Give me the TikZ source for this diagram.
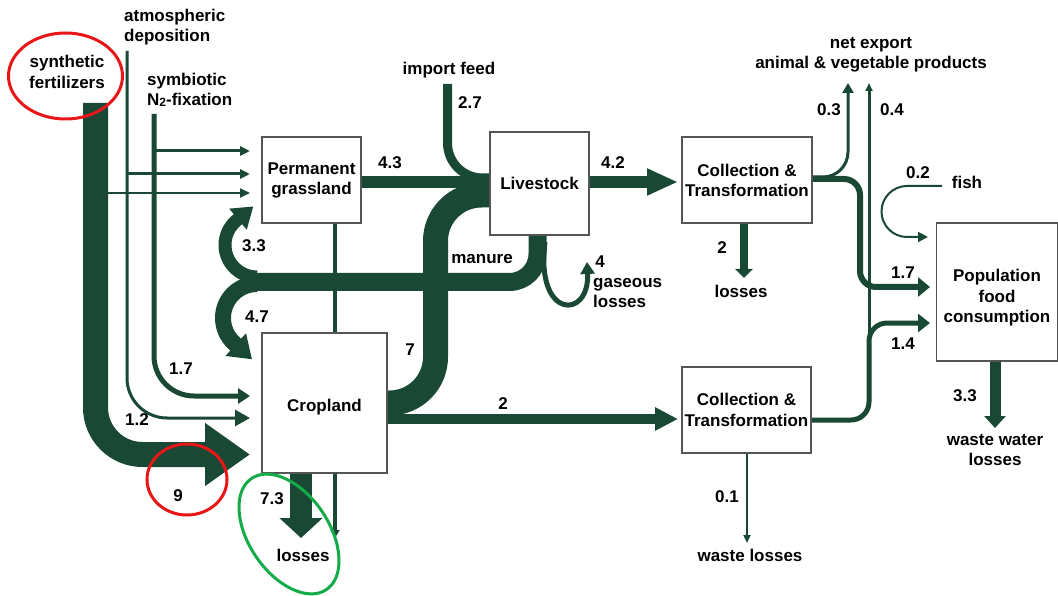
\documentclass[tikz,border=0pt]{standalone}
\usepackage{fontspec}
\setmainfont{Liberation Sans}
\usetikzlibrary{arrows.meta}
\definecolor{fl}{RGB}{25,72,52}
\definecolor{bx}{RGB}{85,85,85}
\definecolor{rd}{RGB}{232,22,22}
\definecolor{gn}{RGB}{20,172,72}
\begin{document}
\begin{tikzpicture}[x=1pt,y=1pt,
  flow/.style={draw=fl, line cap=butt, line join=round},
  lb/.style={font=\bfseries\fontsize{17}{20.5}\selectfont, inner sep=0pt, text=black},
  box/.style={draw=bx, fill=white, line width=1.3pt, inner sep=0pt},
  hd/.style args={#1/#2}{-{Triangle[length=#1pt 0 1, width=#2pt 0 1]}},
]
\useasboundingbox (0,0) rectangle (1058,-596);

% ---------- input flows on the left ----------
% synthetic fertilizers (9)
\draw[flow, line width=25pt, rounded corners=47pt, hd=45/60] (95.5,-103) -- (95.5,-454.5) -- (250,-454.5);
\draw[flow, line width=2pt, hd=10/9] (108,-193) -- (250,-193);
% atmospheric deposition (1.2)
\draw[flow, line width=3pt, rounded corners=40pt, hd=15/16] (127,-51) -- (127,-418) -- (250,-418);
\draw[flow, line width=3pt, hd=10/9] (127,-174) -- (250,-174);
% symbiotic fixation (1.7)
\draw[flow, line width=5pt, rounded corners=40pt, hd=12/15] (154,-114) -- (154,-396) -- (250,-396);
\draw[flow, line width=3pt, hd=10/9] (154,-151) -- (250,-151);

% grassland - cropland leaching line
\draw[flow, line width=4.5pt, hd=8/9] (335,-223) -- (335,-538);
% cropland losses 7.3
\draw[flow, line width=22pt, hd=20/42] (301,-473) -- (301,-538);

% cropland -> livestock (7)
\draw[flow, line width=25pt, rounded corners=46pt] (386,-403) -- (435.5,-403) -- (435.5,-195) -- (490,-195);
% cropland -> collection (2)
\draw[flow, line width=10pt, hd=23/22] (386,-419) -- (678,-419);
% grassland -> livestock (4.3)
\draw[flow, line width=12pt] (361,-182) -- (490,-182);
% import feed (2.7)
\draw[flow, line width=9pt, rounded corners=35pt] (447.5,-84) -- (447.5,-178) -- (490,-178);
% livestock -> collection (4.2)
\draw[flow, line width=12pt, hd=31/25] (589,-182) -- (678,-182);

% manure
\draw[flow, line width=18pt, rounded corners=28pt] (537.5,-235) -- (537.5,-282) -- (256,-282);
% 3.3 back to grassland
\draw[flow, line width=13pt, hd=20/26] (257,-277) arc[start angle=270, end angle=130, radius=32] -- ++(16.9,14.1);
% 4.7 to cropland
\draw[flow, line width=16pt, hd=22/29] (257,-284) arc[start angle=90, end angle=228, radius=34] -- ++(17.8,-16.1);
% gaseous losses
\draw[flow, line width=5pt, hd=12/14] (545,-242) .. controls (535,-320) and (590,-320) .. (587,-262);

% collection (top) outputs
\draw[flow, line width=8pt, hd=9/17] (744,-223) -- (744,-278);
\draw[flow, line width=3pt, rounded corners=25pt, hd=10/11] (812,-177) -- (848,-177) -- (848,-83);
\draw[flow, line width=6pt, rounded corners=16pt, hd=12/19] (812,-179) -- (860,-179) -- (860,-287) -- (930,-287);
% collection (bottom) outputs
\draw[flow, line width=5pt, rounded corners=18pt, hd=12/18] (811,-420) -- (869,-420) -- (869,-323) -- (930,-323);
\draw[flow, line width=3pt, hd=8/7] (869,-340) -- (869,-83);
\draw[flow, line width=2pt, hd=8/7] (747,-453) -- (747,-543);
% fish
\draw[flow, line width=2pt, hd=10/10] (942,-186) -- (907,-186) arc[start angle=90, end angle=270, radius=25.5] -- (928,-237);
% waste water
\draw[flow, line width=11pt, hd=12/21] (995,-361) -- (995,-428);

% ---------- boxes ----------
\node[box, minimum width=99pt, minimum height=86pt] (grass) at (311.5,-180) {};
\node[box, minimum width=99pt, minimum height=103pt] (live) at (539.5,-183.5) {};
\node[box, minimum width=130pt, minimum height=86pt] (ct1) at (747,-180) {};
\node[box, minimum width=121pt, minimum height=138pt] (pop) at (997,-292) {};
\node[box, minimum width=129pt, minimum height=86pt] (ct2) at (746.5,-410) {};
\node[box, minimum width=125pt, minimum height=140pt] (crop) at (324.5,-403) {};
\node[lb, align=center] (tgrass) at ([yshift=-0.5pt]grass.center) {Permanent\\grassland};
\node[lb] (tlive) at (live.center) {Livestock};
\node[lb, align=center] (tct1) at ([yshift=-0.5pt]ct1.center) {Collection \&\\Transformation};
\node[lb, align=center] (tpop) at ([yshift=-6pt]pop.center) {Population\\food\\consumption};
\node[lb, align=center] (tct2) at (ct2.center) {Collection \&\\Transformation};
\node[lb] (tcrop) at ([yshift=-4pt]crop.center) {Cropland};

% ---------- labels ----------
\node[lb, align=center] (tsyn) at (67,-72) {synthetic\\fertilizers};
\node[lb, align=left, anchor=west] (tatm) at (124,-27) {atmospheric\\deposition};
\node[lb, align=left, anchor=west] (tsym) at (147,-90) {symbiotic\\N{\fontsize{12}{12}\selectfont\raisebox{-1pt}{2}}-fixation};
\node[lb] (timp) at (449,-70) {import feed};
\node[lb] (l27) at (470,-103) {2.7};
\node[lb] (l43) at (390,-163) {4.3};
\node[lb] (l42) at (613,-163) {4.2};
\node[lb] (l33) at (254,-246) {3.3};
\node[lb] (l47) at (257,-317) {4.7};
\node[lb] (tman) at (482,-259) {manure};
\node[lb] (l7) at (410,-350) {7};
\node[lb] (l4) at (600,-262) {4};
\node[lb, align=left, anchor=west] (tgas) at (593,-293) {gaseous\\losses};
\node[lb] (l17a) at (181,-369) {1.7};
\node[lb] (l12) at (137,-420) {1.2};
\node[lb] (l9) at (178,-496) {9};
\node[lb] (l73) at (272,-499) {7.3};
\node[lb] (tlos1) at (303,-555) {losses};
\node[lb] (l2a) at (503,-404) {2};
\node[lb] (l2b) at (722,-248) {2};
\node[lb] (tlos2) at (741,-291) {losses};
\node[lb, align=center] (texp) at (871,-55) {net export\\animal \& vegetable products};
\node[lb] (l03) at (829,-110) {0.3};
\node[lb] (l04) at (892,-110) {0.4};
\node[lb] (l02) at (918,-173) {0.2};
\node[lb] (tfish) at (967,-182) {fish};
\node[lb] (l17b) at (903,-273) {1.7};
\node[lb] (l14) at (903,-344) {1.4};
\node[lb] (l33b) at (965,-396) {3.3};
\node[lb, align=center] (tww) at (995,-450) {waste water\\losses};
\node[lb] (l01) at (727,-497) {0.1};
\node[lb] (twl) at (750,-555) {waste losses};

% ---------- highlight ellipses ----------
\draw[rd, line width=3pt] (65.5,-76) ellipse[x radius=57, y radius=43];
\draw[rd, line width=3pt] (187,-479.5) ellipse[x radius=40, y radius=35.5];
\draw[gn, line width=3pt, rotate around={-56:(289,-534)}] (289,-534) ellipse[x radius=67, y radius=40];
\end{tikzpicture}
\end{document}
